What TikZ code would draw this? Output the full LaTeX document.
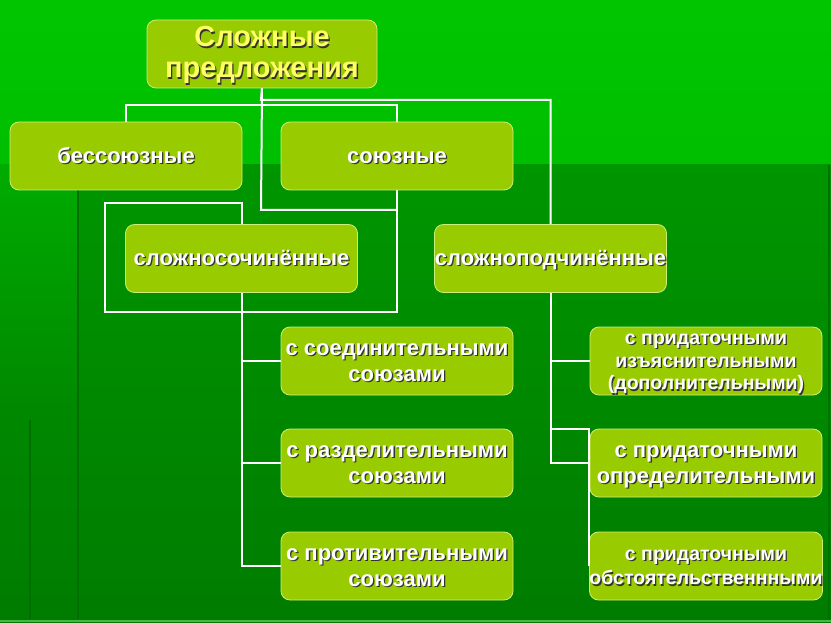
\documentclass[tikz,border=0pt]{standalone}
\usepackage{fontspec}
\setmainfont{Liberation Sans}
\usepackage{tikz}
\usetikzlibrary{positioning}

\definecolor{topgreen}{HTML}{00C600}
\definecolor{topgreenb}{HTML}{00BE00}
\definecolor{lowgreen}{HTML}{009600}
\definecolor{lowgreenb}{HTML}{007C00}
\definecolor{stripgreen}{HTML}{00AC00}
\definecolor{darkline}{HTML}{006E00}
\definecolor{boxfill}{HTML}{99CC00}
\definecolor{boxedge}{HTML}{CCEE77}
\definecolor{titletext}{HTML}{FFFF66}
\definecolor{shadowgrey}{HTML}{333333}

% text with a small dark shadow, each line the same height
\newcommand{\sh}[1]{\leavevmode\rule[-.23\baselineskip]{0pt}{\baselineskip}\rlap{\hspace{1.3pt}\smash{\raisebox{-1.3pt}{\textcolor{shadowgrey}{#1}}}}#1}

\begin{document}
\begin{tikzpicture}[x=1pt, y=-1pt,
            block/.style={draw=boxedge, fill=boxfill, line width=0.8pt, rounded corners=9pt, minimum width=232pt, minimum height=68pt, inner sep=0pt, align=center, text=white, font=\bfseries\fontsize{22}{26}\selectfont},
            small/.style={block, font=\bfseries\fontsize{19.5}{24.5}\selectfont},
            titlebox/.style={block, minimum width=230pt, text=titletext, font=\bfseries\fontsize{29}{31}\selectfont},
            link/.style={draw=white, line width=2pt}]

            % background
            \useasboundingbox (0,0) rectangle (831,623);
            \shade[top color=topgreen, bottom color=topgreenb] (0,0) rectangle (831,165);
            \shade[top color=lowgreen, bottom color=lowgreenb] (0,165) rectangle (831,623);
            \shade[top color=stripgreen, bottom color=lowgreen!90!black] (0,165) rectangle (78,420);
            \draw[darkline, line width=2pt] (78,190) -- (78,619);
            \draw[darkline, line width=2pt] (30,420) -- (30,619);
            \draw[darkline, line width=2pt] (829,165) -- (829,619);
            \draw[green!40!gray, line width=1.2pt] (0,621) -- (831,621);

            % boxes
            \node[titlebox] (title) at (262,54) {\sh{Сложные}\\\sh{предложения}};
            \node[block] (bess) at (126,156) {\sh{бессоюзные}};
            \node[block, right of=bess, node distance=271pt] (soyuz) {\sh{союзные}};
            \node[block, below of=bess, node distance=102.5pt, xshift=115.5pt] (ssoch) {\sh{сложносочинённые}};
            \node[block, right of=ssoch, node distance=309pt] (spodch) {\sh{сложноподчинённые}};
            \node[block, below of=soyuz, node distance=205pt] (soed) {\sh{с соединительными}\\\sh{союзами}};
            \node[block, below of=soed, node distance=102pt] (razd) {\sh{с разделительными}\\\sh{союзами}};
            \node[block, below of=razd, node distance=103pt] (prot) {\sh{с противительными}\\\sh{союзами}};
            \node[small, right of=soed, node distance=309pt, font=\bfseries\fontsize{19.5}{22.6}\selectfont] (izyas) {\sh{с придаточными}\\\sh{изъяснительными}\\\sh{(дополнительными)}};
            \node[block, right of=razd, node distance=309pt] (opred) {\sh{с придаточными}\\\sh{определительными}};
            \node[small, right of=prot, node distance=309pt] (obst) {\sh{с придаточными}\\\sh{обстоятельственнными}};

            % junctions
            \coordinate (j1) at (261,100);
            \coordinate (j2) at (261,210);
            \coordinate (j3) at (126,105);
            \coordinate (f1) at (105,312);
            \coordinate (f2) at (105,203);
            \coordinate (g1) at (551,429);

            % connectors
            \draw[link] (title.south) -- (j1) -| (spodch.north);
            \draw[link] (title.south) -- (j2) -- (j2 -| soyuz);
            \draw[link] (bess.north) -- (j3) -| (soyuz.north);
            \draw[link] (soyuz.south) |- (f1) -- (f2) -| (ssoch.north);
            \draw[link] (ssoch.south) |- (prot.west);
            \draw[link] (ssoch.south |- soed.west) -- (soed.west);
            \draw[link] (ssoch.south |- razd.west) -- (razd.west);
            \draw[link] (spodch.south) |- (opred.west);
            \draw[link] (spodch.south |- izyas.west) -- (izyas.west);
            \draw[link] (g1) -| (obst.west);
        \end{tikzpicture}
\end{document}
